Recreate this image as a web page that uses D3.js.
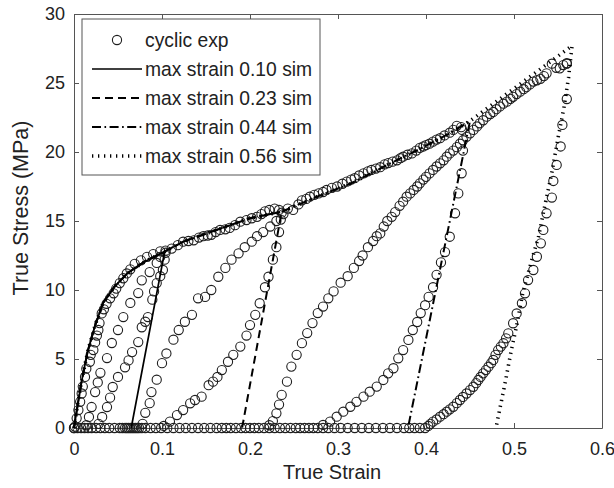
<!DOCTYPE html>
<html>
<head>
<meta charset="utf-8">
<script src="https://cdn.jsdelivr.net/npm/d3@7"></script>
<style>
  html, body { margin: 0; padding: 0; background: #fff; }
  svg { display: block; font-family: "Liberation Sans", Arial, Helvetica, sans-serif; }
</style>
</head>
<body>
<svg id="chart" width="614" height="488"></svg>
<script>
// ---- Axis ticks ----
const strainTicks = [0, 0.1, 0.2, 0.3, 0.4, 0.5, 0.6];
const stressTicks = [0, 5, 10, 15, 20, 25, 30];

// ---- Cyclic experiment, [true strain, true stress (MPa)] ----
const expLoad1 = [[0,0],[0.001,0.1],[0.003,0.7],[0.005,1.3],[0.007,1.9],[0.0087,2.5],[0.010,3.0],[0.0125,3.7],
  [0.014,4.3],[0.018,4.8],[0.019,5.3],[0.022,5.65],[0.024,6.2],[0.026,6.7],[0.0277,7.1],[0.029,7.6],[0.0315,8.3],
  [0.034,8.6],[0.037,9.0],[0.041,9.4],[0.045,9.76],[0.048,10.1],[0.052,10.5],[0.056,10.85],[0.06,11.2],[0.064,11.5],
  [0.069,11.9],[0.076,12.15],[0.083,12.4],[0.09,12.6],[0.098,12.8],[0.104,12.85]];

const expUnload1 = [[0.103,12.2],[0.101,11.45],[0.098,11.0],[0.094,10.5],[0.091,9.9],[0.089,9.3],[0.084,8.04],
  [0.081,7.7],[0.077,7.3],[0.073,6.23],[0.066,5.5],[0.062,4.9],[0.058,4.4],[0.05,3.7],[0.044,2.97],[0.041,2.2],
  [0.0375,1.52],[0.032,0.8],[0.028,0.3]];

const expReload1 = [[0.014,0.2],[0.017,0.8],[0.02,1.52],[0.024,2.6],[0.027,3.3],[0.03,4.0],[0.0375,5.07],[0.043,6.16],
  [0.05,7.1],[0.056,8.04],[0.064,9.06],[0.073,9.78],[0.077,10.7],[0.086,11.3],[0.094,11.96],[0.098,12.4],
  [0.104,12.7],[0.111,13.0],[0.118,13.25],[0.124,13.5],[0.13,13.55],[0.136,13.6],[0.142,13.8],[0.147,13.9],
  [0.152,13.95],[0.156,14.0],[0.161,14.2],[0.166,14.35],[0.172,14.4],[0.177,14.5],[0.183,14.7],[0.189,14.95],
  [0.196,15.07],[0.202,15.2],[0.208,15.3],[0.213,15.5],[0.217,15.7],[0.222,15.8],[0.228,15.9],[0.233,15.8],[0.236,15.6]];

const expUnload2 = [[0.235,15.1],[0.233,14.2],[0.23,13.1],[0.226,12.2],[0.221,10.96],[0.217,10.2],[0.211,9.04],
  [0.206,8.2],[0.2,7.46],[0.196,6.7],[0.189,5.9],[0.181,5.3],[0.175,4.8],[0.168,4.2],[0.163,3.7],[0.158,3.36],
  [0.153,3.1],[0.145,2.27],[0.1375,2.03],[0.132,1.79],[0.124,1.3],[0.117,0.94],[0.109,0.46],[0.102,0.15]];

const expReload2 = [[0.078,0.3],[0.081,1.1],[0.086,1.8],[0.088,2.6],[0.094,3.5],[0.1,4.7],[0.105,5.4],[0.113,6.4],
  [0.119,7.1],[0.126,7.7],[0.134,8.2],[0.141,9.4],[0.149,9.5],[0.156,10.0],[0.164,10.96],[0.172,11.6],[0.179,12.2],
  [0.187,12.66],[0.194,13.1],[0.202,13.5],[0.208,13.9],[0.215,14.2],[0.223,14.6],[0.23,15.0],[0.238,15.5],
  [0.243,15.9],[0.249,15.8],[0.255,16.2],[0.259,16.5],[0.264,16.6],[0.268,16.76],[0.273,16.9],[0.278,17.0],
  [0.283,17.1],[0.287,17.25],[0.293,17.4],[0.299,17.5],[0.305,17.7],[0.31,17.85],[0.315,18.0],[0.319,18.1],
  [0.324,18.3],[0.329,18.45],[0.334,18.6],[0.338,18.7],[0.343,18.8],[0.348,18.9],[0.353,19.1],[0.357,19.2],
  [0.362,19.3],[0.367,19.4],[0.371,19.55],[0.374,19.66],[0.379,19.8],[0.384,19.9],[0.389,20.1],[0.393,20.3],
  [0.397,20.4],[0.4,20.5],[0.404,20.6],[0.408,20.75],[0.412,20.9],[0.416,21.0],[0.421,21.2],[0.427,21.4],
  [0.431,21.6],[0.435,21.9],[0.44,21.8]];

const expUnload3 = [[0.441,21.6],[0.442,20.1],[0.4405,18.46],[0.4367,17.0],[0.433,15.56],[0.427,13.86],[0.4216,12.75],
  [0.417,12.0],[0.412,11.1],[0.408,10.2],[0.403,9.5],[0.399,8.9],[0.394,8.33],[0.39,7.68],[0.385,7.1],[0.38,6.38],
  [0.374,5.65],[0.3685,5.05],[0.363,4.33],[0.357,3.96],[0.3515,3.48],[0.344,3.0],[0.336,2.63],[0.329,2.27],
  [0.321,1.9],[0.314,1.54],[0.306,1.18],[0.2985,0.82],[0.291,0.46],[0.283,0.22]];

const expReload3 = [[0.222,0.2],[0.226,0.5],[0.23,1.06],[0.233,1.7],[0.236,2.4],[0.242,3.36],[0.247,4.45],[0.253,5.3],
  [0.259,6.15],[0.265,6.88],[0.271,7.6],[0.277,8.33],[0.283,8.8],[0.289,9.4],[0.295,9.9],[0.303,10.53],[0.311,11.0],
  [0.318,11.6],[0.324,12.1],[0.328,12.5],[0.334,13.1],[0.34,13.55],[0.344,13.9],[0.348,14.1],[0.352,14.6],
  [0.356,15.0],[0.361,15.3],[0.365,15.65],[0.37,16.1],[0.374,16.4],[0.378,16.76],[0.382,17.0],[0.386,17.25],
  [0.39,17.5],[0.393,17.73],[0.397,18.0],[0.4,18.2],[0.404,18.45],[0.408,18.7],[0.412,18.95],[0.416,19.18],
  [0.42,19.4],[0.4235,19.66],[0.427,19.9],[0.431,20.1],[0.435,20.35],[0.4386,20.6],[0.442,20.85],[0.446,21.1],
  [0.45,21.35],[0.454,21.6],[0.458,21.85],[0.461,22.08],[0.465,22.3],[0.469,22.56],[0.473,22.75],[0.4765,22.9],
  [0.48,23.1],[0.484,23.3],[0.488,23.5],[0.492,23.65],[0.496,23.85],[0.499,24.0],[0.503,24.2],[0.507,24.37],
  [0.511,24.55],[0.514,24.7],[0.518,24.9],[0.522,25.1],[0.526,25.2],[0.53,25.3],[0.534,25.5],[0.537,25.7],
  [0.543,26.4],[0.548,26.1],[0.552,26.06],[0.556,26.3],[0.56,26.4]];

const expUnload4 = [[0.56,26.43],[0.56,23.84],[0.555,21.96],[0.553,20.4],[0.5485,19.06],[0.5447,17.9],[0.543,16.7],
  [0.537,15.56],[0.5333,14.35],[0.5305,13.38],[0.526,12.41],[0.522,11.45],[0.516,10.72],[0.5125,9.76],[0.509,9.04],
  [0.503,8.3],[0.499,7.59],[0.4935,6.86],[0.491,6.5],[0.488,6.14],[0.485,5.9],[0.482,5.65],[0.479,5.3],[0.4765,4.93],
  [0.474,4.7],[0.471,4.44],[0.468,4.2],[0.465,3.96],[0.462,3.7],[0.4595,3.48],[0.457,3.25],[0.4538,2.99],[0.45,2.75],
  [0.446,2.5],[0.442,2.25],[0.4386,2.03],[0.435,1.8],[0.431,1.54],[0.427,1.35],[0.4235,1.18],[0.42,1.0],[0.416,0.82],
  [0.412,0.62],[0.408,0.46],[0.405,0.3],[0.4026,0.15]];

// strain readings taken while the specimen carries no load
const expSlack = [0,0.004,0.008,0.012,0.016,0.02,0.025,0.03,0.035,0.04,0.046,0.052,0.055,0.058,0.06,0.062,0.064,
  0.066,0.068,0.07,0.072,0.074,0.077,0.081,0.087,0.093,0.099,0.106,0.113,0.12,0.127,0.134,0.141,0.148,0.155,0.162,
  0.168,0.173,0.178,0.184,0.19,0.195,0.2,0.205,0.21,0.216,0.222,0.228,0.234,0.24,0.246,0.252,0.257,0.262,0.267,
  0.272,0.277,0.283,0.289,0.296,0.303,0.311,0.319,0.327,0.335,0.343,0.351,0.359,0.367,0.375,0.381,0.387,0.393,0.399];

// ---- Simulation: monotonic loading path and unloading branch per max strain ----
const simLoading = [[0,0],[0.004,1.6],[0.0083,3.26],[0.0125,4.6],[0.0159,5.65],[0.0235,7.34],[0.033,9.06],
  [0.046,10.24],[0.061,11.23],[0.080,12.05],[0.103,12.78],[0.124,13.5],[0.162,14.35],[0.2,15.2],[0.236,15.67],
  [0.276,16.76],[0.314,17.7],[0.351,18.9],[0.389,20.1],[0.427,21.35],[0.45,22.25],[0.566,27.7]];

const simMaxStrain = [0.103, 0.236, 0.45, 0.566];
const simUnload010 = [[0.065,0]];
const simUnload023 = [[0.191,0]];
const simUnload044 = [[0.3795,0]];
const simUnload056 = [[0.562,25.4],[0.557,23.3],[0.550,21.0],[0.543,18.5],[0.535,16.1],[0.528,13.9],[0.519,11.9],
  [0.510,9.8],[0.503,7.4],[0.497,5.65],[0.49,3.3],[0.482,0.8],[0.4795,0]];

const legendLabels = ["cyclic exp", "max strain 0.10 sim", "max strain 0.23 sim", "max strain 0.44 sim", "max strain 0.56 sim"];

// ---- Layout ----
const svg = d3.select("#chart");
const x = d3.scaleLinear().domain([0, 0.6]).range([74, 602]);
const y = d3.scaleLinear().domain([0, 30]).range([428, 14]);
const ink = "#1e1e1e";
const axisInk = "#555";
const markerR = 4.6;

const simStyles = [
  { dash: null, width: 1.7 },
  { dash: "8,5", width: 2 },
  { dash: "9,3.5,1.6,3.5", width: 2 },
  { dash: "1.3,4.7", width: 3.6 }
];
const simUnloads = [simUnload010, simUnload023, simUnload044, simUnload056];

// Axes (ticks point inward, box closed on all sides)
function styleAxis(g) {
  g.selectAll("path.domain").attr("stroke", axisInk).attr("stroke-width", 1);
  g.selectAll(".tick line").attr("stroke", axisInk).attr("stroke-width", 1);
  g.selectAll(".tick text").attr("fill", "#222").style("font-size", "18px")
    .style("font-family", '"Liberation Sans", Arial, sans-serif');
}
svg.append("g").attr("transform", "translate(0,428)")
  .call(d3.axisBottom(x).tickValues(strainTicks).tickFormat(d3.format("~g")).tickSizeInner(-5).tickSizeOuter(0).tickPadding(14))
  .call(styleAxis);
svg.append("g").attr("transform", "translate(0,14)")
  .call(d3.axisTop(x).tickValues(strainTicks).tickFormat("").tickSizeInner(-5).tickSizeOuter(0))
  .call(styleAxis);
svg.append("g").attr("transform", "translate(74,0)")
  .call(d3.axisLeft(y).tickValues(stressTicks).tickSizeInner(-5).tickSizeOuter(0).tickPadding(9))
  .call(styleAxis);
svg.append("g").attr("transform", "translate(602,0)")
  .call(d3.axisRight(y).tickValues(stressTicks).tickFormat("").tickSizeInner(-5).tickSizeOuter(0))
  .call(styleAxis);

// Axis titles
svg.append("text").attr("x", 332).attr("y", 479).attr("text-anchor", "middle")
  .style("font-size", "20px").attr("fill", "#222").text("True Strain");
svg.append("text").attr("transform", "translate(28,208) rotate(-90)").attr("text-anchor", "middle")
  .style("font-size", "21.5px").attr("fill", "#222").text("True Stress (MPa)");

// Experimental markers
const expPoints = [].concat(expLoad1, expUnload1, expReload1, expUnload2, expReload2,
  expUnload3, expReload3, expUnload4, expSlack.map(s => [s, 0]));
svg.append("g").selectAll("circle").data(expPoints).join("circle")
  .attr("cx", d => x(d[0])).attr("cy", d => y(d[1])).attr("r", markerR)
  .attr("fill", "none").attr("stroke", ink).attr("stroke-width", 1.1);

// Simulated curves
const line = d3.line().x(d => x(d[0])).y(d => y(d[1]));
const simPaths = simMaxStrain.map((m, i) => simLoading.filter(p => p[0] <= m + 1e-9).concat(simUnloads[i]));
[3, 2, 1, 0].forEach(i => {
  const s = simStyles[i];
  svg.append("path").datum(simPaths[i]).attr("d", line)
    .attr("fill", "none").attr("stroke", "#000").attr("stroke-width", s.width)
    .attr("stroke-dasharray", s.dash).attr("stroke-linejoin", "round");
});

// Legend
const lg = svg.append("g");
lg.append("rect").attr("x", 82).attr("y", 19).attr("width", 238).attr("height", 156)
  .attr("fill", "#fff").attr("stroke", axisInk).attr("stroke-width", 1);
const rowY = [40, 69, 98, 127, 156];
legendLabels.forEach((lab, i) => {
  const yy = rowY[i];
  if (i === 0) {
    lg.append("circle").attr("cx", 117).attr("cy", yy).attr("r", markerR)
      .attr("fill", "none").attr("stroke", ink).attr("stroke-width", 1.1);
  } else {
    const s = simStyles[i - 1];
    lg.append("line").attr("x1", 92).attr("x2", 142).attr("y1", yy).attr("y2", yy)
      .attr("stroke", "#000").attr("stroke-width", s.width).attr("stroke-dasharray", s.dash);
  }
  lg.append("text").attr("x", 145).attr("y", yy).attr("dy", "0.35em")
    .style("font-size", "19.3px").attr("fill", "#222").text(lab);
});
</script>
</body>
</html>
